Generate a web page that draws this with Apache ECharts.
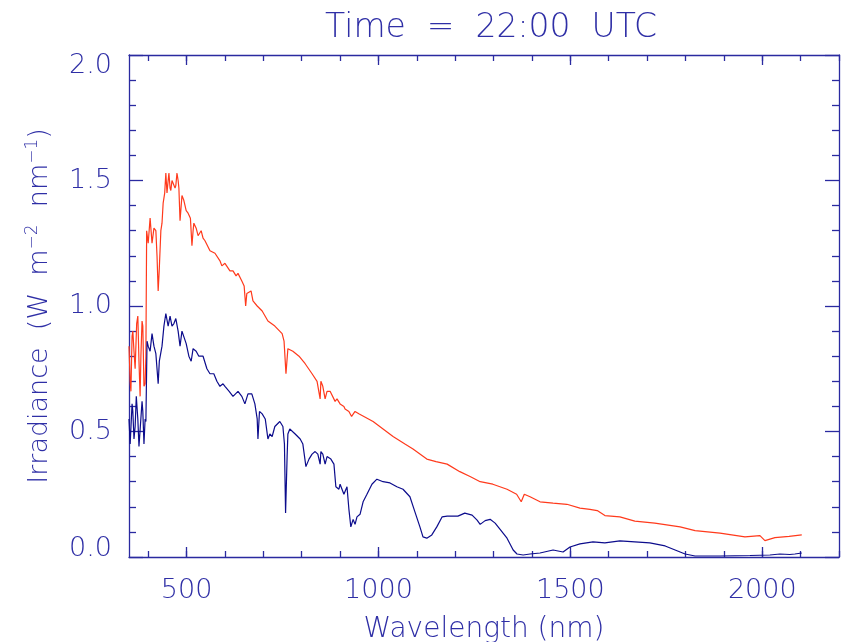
<!DOCTYPE html>
<html>
<head>
<meta charset="utf-8">
<script src="https://cdn.jsdelivr.net/npm/echarts@6/dist/echarts.min.js"></script>
<style>html,body{margin:0;padding:0;background:#fff}#c{width:844px;height:642px}</style>
</head>
<body>
<div id="c"></div>
<script>
// ---- data (wavelength nm, irradiance W m-2 nm-1) ----
const redWl  = [350,353,355,358,360,363,366,370,373,376,379,381,384,386,389,392,394,396,400,405,410,415,420,423,426,429,433,436,439,443,446,449,452,454,457,459,462,465,470,472,475,478,480,483,486,488,493,499,504,510,514,517,519,525,530,538,543,548,561,574,587,592,600,613,621,629,634,639,644,650,654,657,668,673,684,697,712,730,749,754,759,764,777,793,809,827,840,848,850,855,861,866,874,887,892,900,910,913,923,926,930,939,950,986,1012,1038,1069,1090,1126,1150,1179,1212,1240,1265,1298,1335,1360,1372,1380,1395,1421,1455,1491,1525,1551,1570,1590,1629,1668,1720,1786,1825,1890,1955,1994,2007,2033,2070,2103];
const redVal = [0.84,0.70,0.66,0.88,0.90,0.82,0.75,0.93,0.96,0.78,0.64,0.80,0.94,0.92,0.68,0.69,0.80,1.30,1.25,1.35,1.25,1.31,1.30,1.20,1.06,1.15,1.30,1.33,1.41,1.45,1.53,1.45,1.50,1.53,1.47,1.46,1.50,1.50,1.47,1.48,1.53,1.50,1.47,1.34,1.40,1.44,1.42,1.38,1.37,1.35,1.24,1.30,1.33,1.31,1.28,1.30,1.27,1.26,1.22,1.21,1.18,1.16,1.17,1.14,1.14,1.12,1.13,1.13,1.10,1.08,1.00,1.05,1.06,1.02,1.00,0.98,0.94,0.92,0.89,0.86,0.73,0.83,0.82,0.80,0.77,0.73,0.70,0.63,0.70,0.68,0.63,0.66,0.66,0.62,0.63,0.61,0.60,0.59,0.58,0.58,0.56,0.58,0.57,0.54,0.51,0.48,0.45,0.43,0.39,0.38,0.37,0.34,0.32,0.30,0.29,0.27,0.25,0.22,0.25,0.24,0.22,0.215,0.21,0.195,0.19,0.185,0.165,0.16,0.143,0.135,0.12,0.105,0.095,0.08,0.085,0.065,0.077,0.082,0.088];

const blueWl  = [350,353,358,360,363,366,369,373,376,379,384,386,389,392,394,397,400,405,410,415,420,426,429,436,441,446,452,457,462,467,472,478,483,488,493,499,506,512,517,525,532,543,553,561,571,579,587,595,600,611,621,634,644,652,660,670,678,684,686,690,697,705,712,717,723,730,743,751,755,758,762,764,769,783,796,803,811,819,827,835,842,848,850,855,861,866,876,884,889,897,900,905,910,918,923,928,934,939,944,952,960,970,983,996,1012,1030,1048,1064,1082,1095,1108,1116,1126,1139,1152,1166,1179,1207,1225,1244,1257,1265,1278,1291,1304,1317,1335,1351,1361,1377,1395,1421,1455,1481,1499,1525,1559,1590,1629,1668,1707,1747,1773,1799,1825,1890,1968,2020,2046,2072,2085,2103];
const blueVal = [0.55,0.45,0.61,0.58,0.47,0.52,0.64,0.55,0.44,0.44,0.62,0.58,0.45,0.55,0.54,0.86,0.84,0.82,0.89,0.84,0.81,0.69,0.78,0.84,0.92,0.97,0.92,0.96,0.92,0.93,0.95,0.90,0.84,0.90,0.90,0.85,0.80,0.78,0.83,0.82,0.80,0.80,0.75,0.73,0.73,0.70,0.68,0.69,0.68,0.66,0.64,0.66,0.64,0.61,0.65,0.65,0.61,0.55,0.47,0.58,0.57,0.55,0.47,0.49,0.48,0.52,0.54,0.52,0.45,0.175,0.40,0.49,0.51,0.49,0.47,0.45,0.36,0.39,0.41,0.42,0.41,0.37,0.42,0.41,0.37,0.40,0.39,0.37,0.28,0.27,0.29,0.29,0.25,0.28,0.19,0.12,0.15,0.13,0.16,0.17,0.22,0.25,0.29,0.31,0.30,0.295,0.28,0.27,0.24,0.18,0.12,0.08,0.075,0.088,0.12,0.16,0.163,0.163,0.175,0.167,0.147,0.13,0.145,0.15,0.135,0.11,0.075,0.028,0.012,0.008,0.012,0.016,0.028,0.02,0.04,0.052,0.06,0.056,0.064,0.06,0.056,0.044,0.028,0.012,0.004,0.004,0.006,0.008,0.012,0.01,0.012,0.016];

// axis ranges / tick steps
const xMin = 350, xMax = 2200;
const xMajorStart = 500, xMajorEnd = 2000, xMajorStep = 500;   // labelled ticks 500..2000
const xMinorStart = 400, xMinorStep = 100;                     // small ticks every 100 nm
const yTickLabels = ['0.0','0.5','1.0','1.5','2.0'];

const AX = '#2a2aa0';
const TXT = '#2f2fa6';
const FONT = 'DejaVu Sans';

// plot frame in pixels
const W = 844, G_LEFT = 129, G_RIGHT = 5, G_TOP = 55, G_BOTTOM = 85;
const pxPerNm = (W - G_LEFT - G_RIGHT) / (xMax - xMin);
const minorLeft = G_LEFT + (xMinorStart - xMin) * pxPerNm;
const majorLeft = G_LEFT + (xMajorStart - xMin) * pxPerNm;
const majorRight = W - majorLeft - (xMajorEnd - xMajorStart) * pxPerNm;

const chart = echarts.init(document.getElementById('c'), null, {renderer: 'canvas'});

const lineStyle = {color: AX, width: 1.3};
const lblFont = {color: TXT, fontFamily: FONT, fontWeight: 200, fontSize: 27};

function frameX(pos, withName) {
  return {
    type: 'value', min: xMin, max: xMax, position: pos, gridIndex: 0,
    axisLine: {show: true, onZero: false, lineStyle},
    axisTick: {show: false}, axisLabel: {show: false}, splitLine: {show: false},
    name: withName ? 'Wavelength (nm)' : '', nameLocation: 'middle', nameGap: 59,
    nameTextStyle: Object.assign({}, lblFont, {fontSize: 28})
  };
}
function minorX(pos) {
  return {
    type: 'value', min: xMinorStart, max: xMax, interval: xMinorStep, position: pos, gridIndex: 1,
    axisLine: {show: false}, axisTick: {show: true, inside: true, length: 6, lineStyle},
    axisLabel: {show: false}, splitLine: {show: false}
  };
}
function majorX(pos, labels) {
  return {
    type: 'value', min: xMajorStart, max: xMajorEnd, interval: xMajorStep, position: pos, gridIndex: 2,
    axisLine: {show: false}, axisTick: {show: true, inside: true, length: 10, lineStyle},
    axisLabel: labels ? Object.assign({show: true, margin: 20, formatter: v => String(v)}, lblFont) : {show: false},
    splitLine: {show: false}
  };
}
function yAx(pos, labels) {
  return {
    type: 'value', min: 0, max: 2, interval: 0.5, position: pos, gridIndex: 0,
    axisLine: {show: true, onZero: false, lineStyle},
    axisTick: {show: true, inside: true, length: 14, lineStyle},
    minorTick: {show: true, splitNumber: 5, length: 7, lineStyle},
    axisLabel: labels ? Object.assign({
      show: true, margin: 17,
      formatter: function (v) {
        const s = yTickLabels[Math.round(v / 0.5)];
        if (v >= 2) return '{top|' + s + '}';
        if (v <= 0) return '{bot|' + s + '}';
        return s;
      },
      rich: {
        top: Object.assign({padding: [22, 0, 0, 0]}, lblFont),
        bot: Object.assign({padding: [0, 0, 16, 0]}, lblFont)
      }
    }, lblFont) : {show: false},
    splitLine: {show: false},
    name: labels ? 'Irradiance  (W  m{sup|−2}  nm{sup|−1})' : '',
    nameLocation: 'middle', nameRotate: 90, nameGap: 74,
    nameTextStyle: Object.assign({}, lblFont, {
      rich: {sup: Object.assign({}, lblFont, {fontSize: 17, padding: [0, 0, 14, 0]})}})
  };
}
function hiddenY(gi) {
  return {type: 'value', min: 0, max: 2, gridIndex: gi, show: false, splitLine: {show: false}};
}

const redData = redWl.map((w, i) => [w, redVal[i]]);
const blueData = blueWl.map((w, i) => [w, blueVal[i]]);

const gridBase = {top: G_TOP, bottom: G_BOTTOM, containLabel: false, outerBoundsMode: 'none'};

chart.setOption({
  animation: false,
  backgroundColor: '#ffffff',
  title: {
    text: 'Time  =  22:00  UTC', left: 486, top: 7, textAlign: 'center',
    textStyle: {color: TXT, fontFamily: FONT, fontWeight: 200, fontSize: 33}
  },
  grid: [
    Object.assign({left: G_LEFT, right: G_RIGHT}, gridBase),
    Object.assign({left: minorLeft, right: G_RIGHT}, gridBase),
    Object.assign({left: majorLeft, right: majorRight}, gridBase)
  ],
  xAxis: [
    frameX('bottom', true), frameX('top', false),
    minorX('bottom'), minorX('top'),
    majorX('bottom', true), majorX('top', false)
  ],
  yAxis: [yAx('left', true), yAx('right', false), hiddenY(1), hiddenY(2)],
  series: [
    {type: 'line', name: 'red', data: redData, xAxisIndex: 0, yAxisIndex: 0, showSymbol: false,
     lineStyle: {color: '#ff3a1c', width: 1.2}, itemStyle: {color: '#ff3a1c'}},
    {type: 'line', name: 'blue', data: blueData, xAxisIndex: 0, yAxisIndex: 0, showSymbol: false,
     lineStyle: {color: '#0c0c8c', width: 1.2}, itemStyle: {color: '#0c0c8c'}}
  ]
});
</script>
</body>
</html>
